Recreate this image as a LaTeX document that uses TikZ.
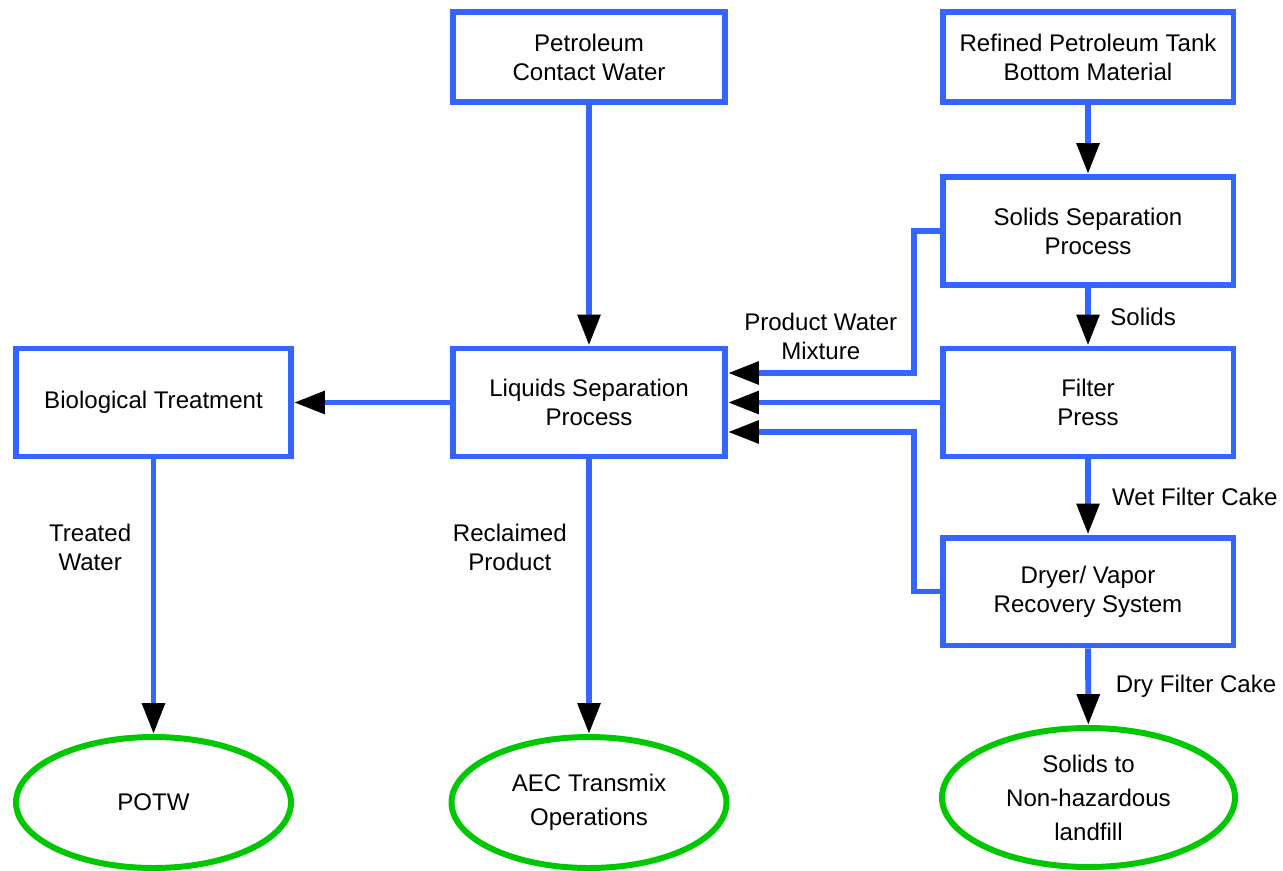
\documentclass[tikz,border=0pt]{standalone}
\usepackage{fontspec}
\setmainfont{Liberation Sans}
\usetikzlibrary{shapes.geometric,arrows.meta,positioning}
\definecolor{flowblue}{RGB}{51,102,255}
\definecolor{endgreen}{RGB}{0,200,0}

\begin{document}
\begin{tikzpicture}[x=0.02cm, y=-0.02cm, line width=3.4pt,
    font=\fontsize{13.7}{16.5}\selectfont,
    box/.style={draw=flowblue, rectangle, align=center, minimum width=5.44cm, minimum height=2.16cm, inner sep=0pt},
    wide/.style={box, minimum width=5.82cm},
    sink/.style={draw=endgreen, ellipse, align=center, minimum width=5.5cm, minimum height=2.62cm, inner sep=0pt,
      font=\fontsize{13.7}{19.3}\selectfont},
    flow/.style={draw=flowblue, -{Triangle[length=0.62cm, width=0.44cm, color=black]}},
    tag/.style={align=center, inner sep=2pt}]
	\useasboundingbox (0,0) rectangle (1283,871);
	% sources
	\node[box, minimum height=1.8cm] (Contact) at (589,57) {Petroleum\\Contact Water};
	\node[wide, minimum height=1.8cm] (TankBottom) at (1088,57) {Refined Petroleum Tank\\Bottom Material};
	% process steps
	\node[wide] (SolidSep) at (1088,231) {Solids Separation\\Process};
	\node[box] (LiquidSep) at (589,402.5) {Liquids Separation\\Process};
	\node[wide] (FilterPress) at (1088,402.5) {Filter\\Press};
	\node[box, minimum width=5.5cm] (BioTreat) at (153.5,402.5) {Biological Treatment};
	\node[wide] (Dryer) at (1088,591.5) {Dryer/ Vapor\\Recovery System};
	% destinations
	\node[sink] (POTW) at (153.5,802.5) {POTW};
	\node[sink] (Transmix) at (589,802.5) {AEC Transmix\\Operations};
	\node[sink, minimum width=5.86cm, minimum height=2.78cm] (Landfill) at (1088.5,797.5) {Solids to\\Non-hazardous\\landfill};
	% flows
	\draw[flow] (Contact) -- (LiquidSep);
	\draw[flow] (TankBottom) -- (SolidSep);
	\draw[flow] (SolidSep) -- (FilterPress) node[midway, right=9pt, tag] {Solids};
	\draw[flow] (FilterPress) -- (Dryer) node[midway, right=10pt, tag] {Wet Filter Cake};
	\draw[flow] (Dryer) -- (Landfill) node[midway, right=12pt, tag] {Dry Filter Cake};
	\draw[flow] (SolidSep.west) -- ++(-26,0) |- ([yshift=0.59cm]LiquidSep.east)
		node[pos=0.75, above=4pt, tag] {Product Water\\Mixture};
	\draw[flow] (FilterPress) -- (LiquidSep);
	\draw[flow] (Dryer.west) -- ++(-26,0) |- ([yshift=-0.59cm]LiquidSep.east);
	\draw[flow] (LiquidSep) -- (BioTreat);
	\draw[flow] (BioTreat) -- (POTW) node[pos=0.32, left=9pt, tag] {Treated\\Water};
	\draw[flow] (LiquidSep) -- (Transmix) node[pos=0.32, left=9pt, tag] {Reclaimed\\Product};
\end{tikzpicture}
\end{document}
